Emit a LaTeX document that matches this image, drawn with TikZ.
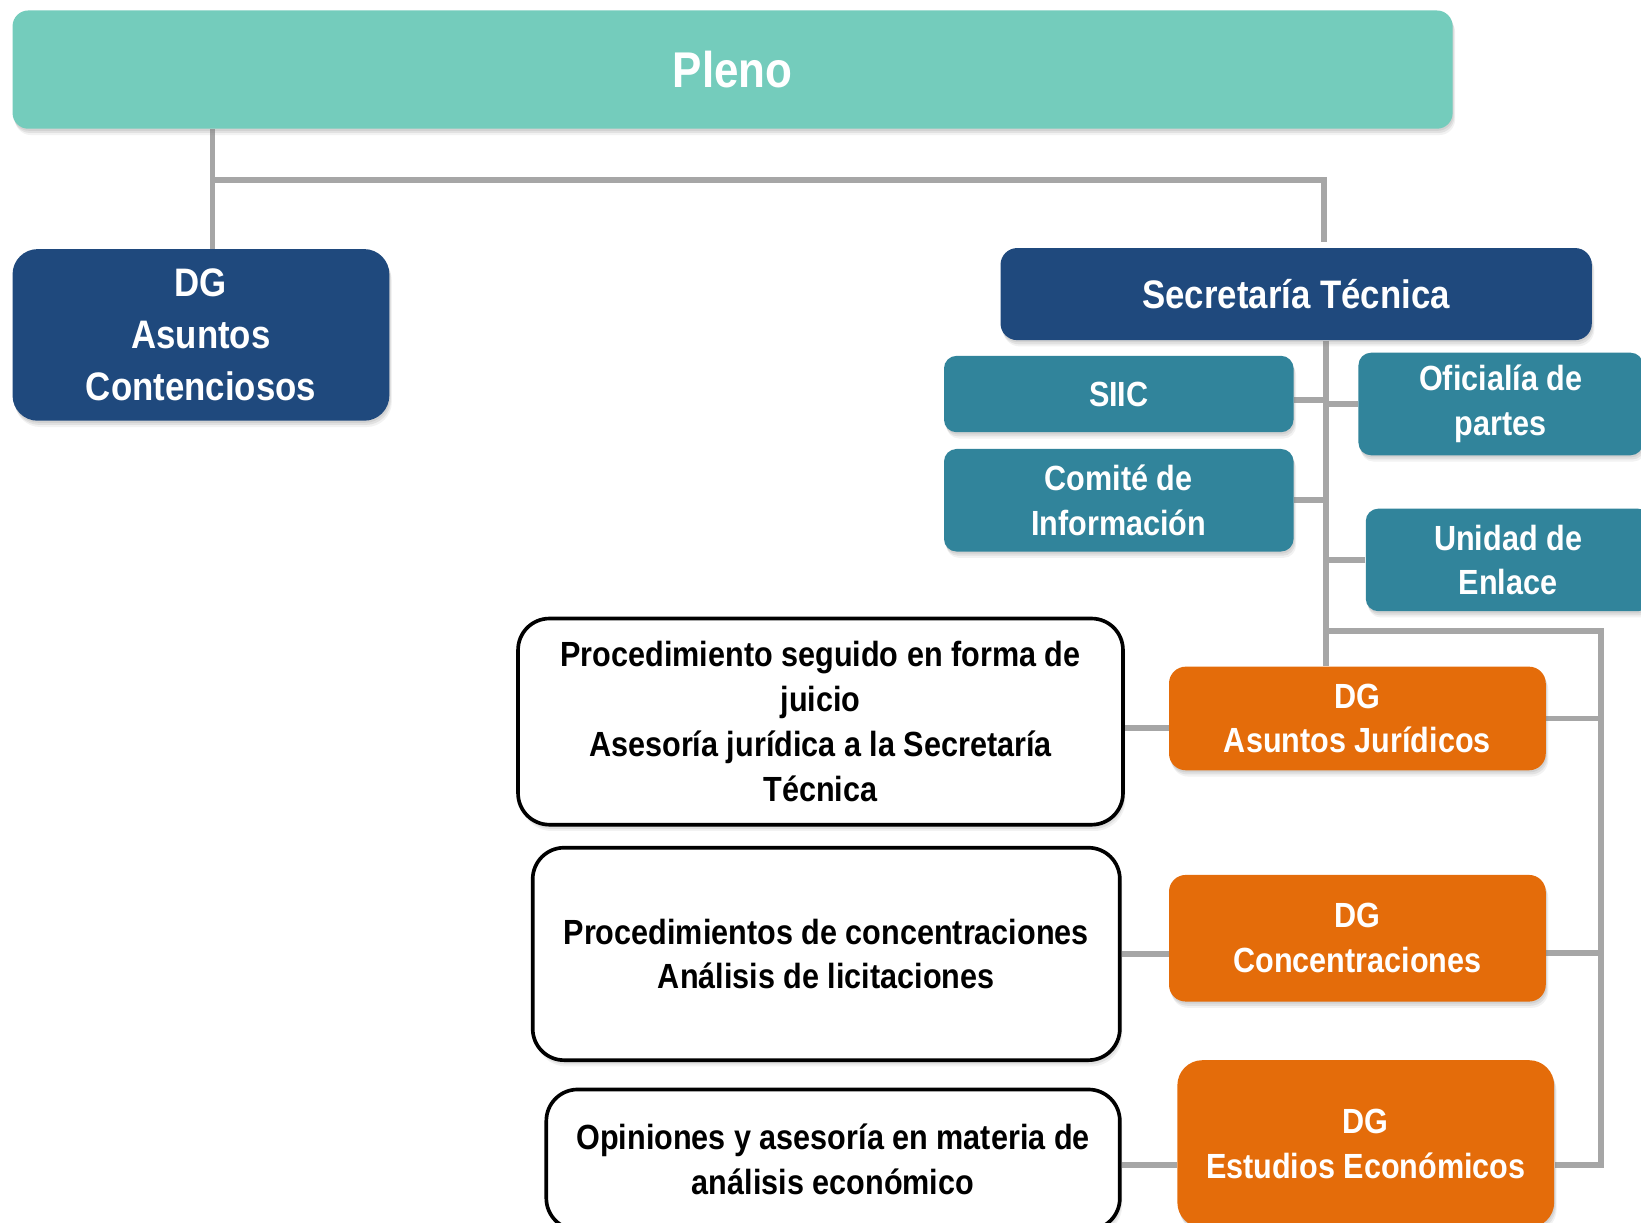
\documentclass[tikz,border=0pt]{standalone}
\usepackage{fontspec}
\setmainfont{Liberation Sans}[FakeStretch=0.875]
\usetikzlibrary{shadows}
\definecolor{plenoc}{HTML}{74CCBC}
\definecolor{navy}{HTML}{1F497D}
\definecolor{tealc}{HTML}{31849B}
\definecolor{orangec}{HTML}{E46C0A}
\definecolor{linec}{HTML}{A6A6A6}
\pgfdeclarelayer{bgwhite}
\pgfdeclarelayer{conns}
\pgfsetlayers{bgwhite,conns,main}
\begin{document}
\begin{tikzpicture}[x=0.5pt,y=-0.5pt,
 shad/.style={drop shadow={shadow xshift=1.2pt,shadow yshift=-3pt,opacity=0.10},
              drop shadow={shadow xshift=0.8pt,shadow yshift=-2pt,opacity=0.15},
              drop shadow={shadow xshift=0.4pt,shadow yshift=-1pt,opacity=0.15}},
 base/.style={align=center,inner sep=0pt,text=white,font=\bfseries\fontsize{16.7}{21.4}\selectfont,shad},
 pl/.style={base,fill=plenoc,rounded corners=7.5pt,font=\bfseries\fontsize{24}{28}\selectfont},
 nv/.style={base,fill=navy,rounded corners=8pt,font=\bfseries\fontsize{19}{24.75}\selectfont},
 tl/.style={base,fill=tealc,rounded corners=6pt},
 og/.style={base,fill=orangec,rounded corners=8pt},
 wb/.style={base,fill=white,draw=black,line width=1.75pt,text=black,rounded corners=15pt},
 conn/.style={draw=linec,line width=2.8pt}]
\begin{pgfonlayer}{bgwhite}
\fill[white] (0,0) rectangle (1568,1168);
\end{pgfonlayer}
\useasboundingbox (0,0) rectangle (1568,1168);
\clip (0,0) rectangle (1568,1168);

\node[pl, minimum width=688pt, minimum height=56.5pt] (pleno) at (700,66.5) {Pleno};
\node[nv, rounded corners=12pt, minimum width=180pt, minimum height=82pt] (dgac) at (192,320) {DG\\Asuntos\\Contenciosos};
\node[nv, minimum width=282.5pt, minimum height=44pt] (st) at (1238.5,281) {Secretaría Técnica};
\node[tl, minimum width=167pt, minimum height=36.5pt] (siic) at (1069,376.5) {SIIC};
\node[tl, minimum width=136pt, minimum height=49pt] (ofi) at (1434,386) {Oficialía de\\partes};
\node[tl, minimum width=167pt, minimum height=49pt] (comite) at (1069,478) {Comité de\\Información};
\node[tl, minimum width=136pt, minimum height=49pt] (unidad) at (1441,535) {Unidad de\\Enlace};
\node[og, minimum width=180pt, minimum height=49.5pt] (dgaj) at (1297,686.5) {DG\\Asuntos Jurídicos};
\node[og, minimum width=180pt, minimum height=60.5pt] (dgc) at (1297,896.5) {DG\\Concentraciones};
\node[og, rounded corners=12pt, minimum width=180pt, minimum height=80pt] (dgee) at (1305,1093) {DG\\Estudios Económicos};
\node[wb, minimum width=289pt, minimum height=98.5pt] (w1) at (784,689.5) {Procedimiento seguido en forma de\\juicio\\Asesoría jurídica a la Secretaría\\Técnica};
\node[wb, minimum width=280.5pt, minimum height=101.5pt] (w2) at (789.5,911.5) {Procedimientos de concentraciones\\Análisis de licitaciones};
\node[wb, minimum width=274pt, minimum height=67pt] (w3) at (796,1108) {Opiniones y asesoría en materia de\\análisis económico};

\begin{pgfonlayer}{conns}
\coordinate (j1) at (203,172);
\coordinate (j2) at (1265,172);
\coordinate (sp) at (1267,603);
\coordinate (rb) at (1530,603);
\draw[conn] (pleno.south -| j1) -- (dgac.north -| j1);
\draw[conn] (j1) -- (j2) -- ([yshift=2.5pt]st.north -| j2);
\draw[conn] (st.south -| sp) -- (dgaj.north -| sp);
\draw[conn] ([yshift=-3pt]siic.east) -- ([yshift=-3pt]siic.east -| sp);
\draw[conn] (ofi.west) -- (ofi.west -| sp);
\draw[conn] (comite.east) -- (comite.east -| sp);
\draw[conn] (unidad.west) -- (unidad.west -| sp);
\draw[conn] (sp) -- (rb) -- (rb |- 0,1113) -- ([yshift=-10pt]dgee.east);
\draw[conn] (dgaj.east) -- (dgaj.east -| rb);
\draw[conn] ([yshift=-7pt]dgc.east) -- ([yshift=-7pt]dgc.east -| rb);
\draw[conn] ([yshift=-3pt]w1.east) -- ([yshift=-3pt]w1.east -| dgaj.west);
\draw[conn] (w2.east) -- (w2.east -| dgc.west);
\draw[conn] ([yshift=-2.5pt]w3.east) -- ([yshift=-2.5pt]w3.east -| dgee.west);
\end{pgfonlayer}
\end{tikzpicture}
\end{document}
